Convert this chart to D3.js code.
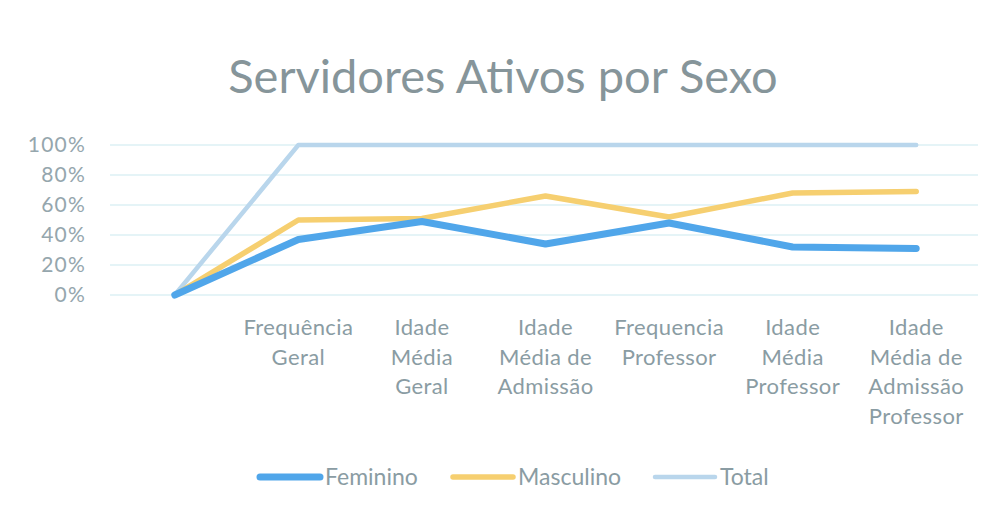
<!doctype html>
<html>
<head>
<meta charset="utf-8">
<script type='text/javascript' src='https://d3js.org/d3.v7.min.js'></script>
<style>
body { margin:0; background:#fff; }
text { font-family: Lato, 'Open Sans', sans-serif; }
</style>
</head>
<body>
<script>
var width = 998, height = 514;
// categories (first one is empty in the original sheet)
var categories = ['', 'Frequência Geral', 'Idade Média Geral', 'Idade Média de Admissão',
  'Frequencia Professor', 'Idade Média Professor', 'Idade Média de Admissão Professor'];
// how excel wrapped the category labels
var labelLines = [[], ['Frequência', 'Geral'], ['Idade', 'Média', 'Geral'], ['Idade', 'Média de', 'Admissão'],
  ['Frequencia', 'Professor'], ['Idade', 'Média', 'Professor'], ['Idade', 'Média de', 'Admissão', 'Professor']];
var feminino = [0, 37, 49, 34, 48, 32, 31];
var masculino = [0, 50, 51, 66, 52, 68, 69];
var total = [0, 100, 100, 100, 100, 100, 100];
var yTicks = [0, 20, 40, 60, 80, 100];
var seriesNames = ['Feminino', 'Masculino', 'Total'];

var series = [
  {name: seriesNames[0], values: feminino, color: '#50a6ea', w: 7},
  {name: seriesNames[1], values: masculino, color: '#f6cf70', w: 5.5},
  {name: seriesNames[2], values: total, color: '#b9d6ec', w: 4.5}
];

var svg = d3.select('body').append('svg').attr('width', width).attr('height', height);

var x = d3.scalePoint().domain(categories).range([113, 978]).padding(0.5);
var y = d3.scaleLinear().domain([0, 100]).range([295, 145]);

// title
svg.append('text').attr('x', 503).attr('y', 93).attr('text-anchor', 'middle')
  .attr('font-size', 47).attr('fill', '#86959a').text('Servidores Ativos por Sexo');

// gridlines
svg.append('g').selectAll('line').data(yTicks).join('line')
  .attr('x1', 110).attr('x2', 978)
  .attr('y1', d => y(d)).attr('y2', d => y(d))
  .attr('stroke', '#dcf0f5').attr('stroke-width', 1.3);

// y axis labels
var yAxis = svg.append('g').attr('transform', 'translate(86,0)')
  .call(d3.axisLeft(y).tickValues(yTicks).tickFormat(d => d + '%').tickSize(0).tickPadding(0));
yAxis.select('.domain').remove();
yAxis.selectAll('text').attr('font-size', 21).attr('fill', '#95a6ad')
  .attr('font-family', 'Lato, sans-serif').attr('letter-spacing', 1.2);

// x labels
var xl = svg.append('g').selectAll('text').data(categories).join('text')
  .attr('text-anchor', 'middle').attr('font-size', 22).attr('fill', '#8a9ca3')
  .attr('letter-spacing', 0.4)
  .attr('transform', d => 'translate(' + x(d) + ',335)');
xl.each(function(d, i) {
  d3.select(this).selectAll('tspan').data(labelLines[i]).join('tspan')
    .attr('x', 0).attr('dy', (t, j) => j ? 29.5 : 0).text(t => t);
});

// lines
var line = d3.line().x((v, i) => x(categories[i])).y(v => y(v)).curve(d3.curveLinear);
svg.append('g').selectAll('path').data(series.slice().reverse()).join('path')
  .attr('d', d => line(d.values))
  .attr('fill', 'none').attr('stroke', d => d.color).attr('stroke-width', d => d.w)
  .attr('stroke-linejoin', 'round').attr('stroke-linecap', 'round');

// legend
var legX = [260, 453, 655];
var leg = svg.append('g').selectAll('g').data(series).join('g')
  .attr('transform', (d, i) => 'translate(' + legX[i] + ',477)');
leg.append('line').attr('x1', 0).attr('x2', 60).attr('y1', 0).attr('y2', 0)
  .attr('stroke', d => d.color).attr('stroke-width', d => d.w).attr('stroke-linecap', 'round');
leg.append('text').attr('x', 65).attr('y', 8).attr('font-size', 23).attr('fill', '#8a9ca3')
  .text(d => d.name);
</script>
</body>
</html>
